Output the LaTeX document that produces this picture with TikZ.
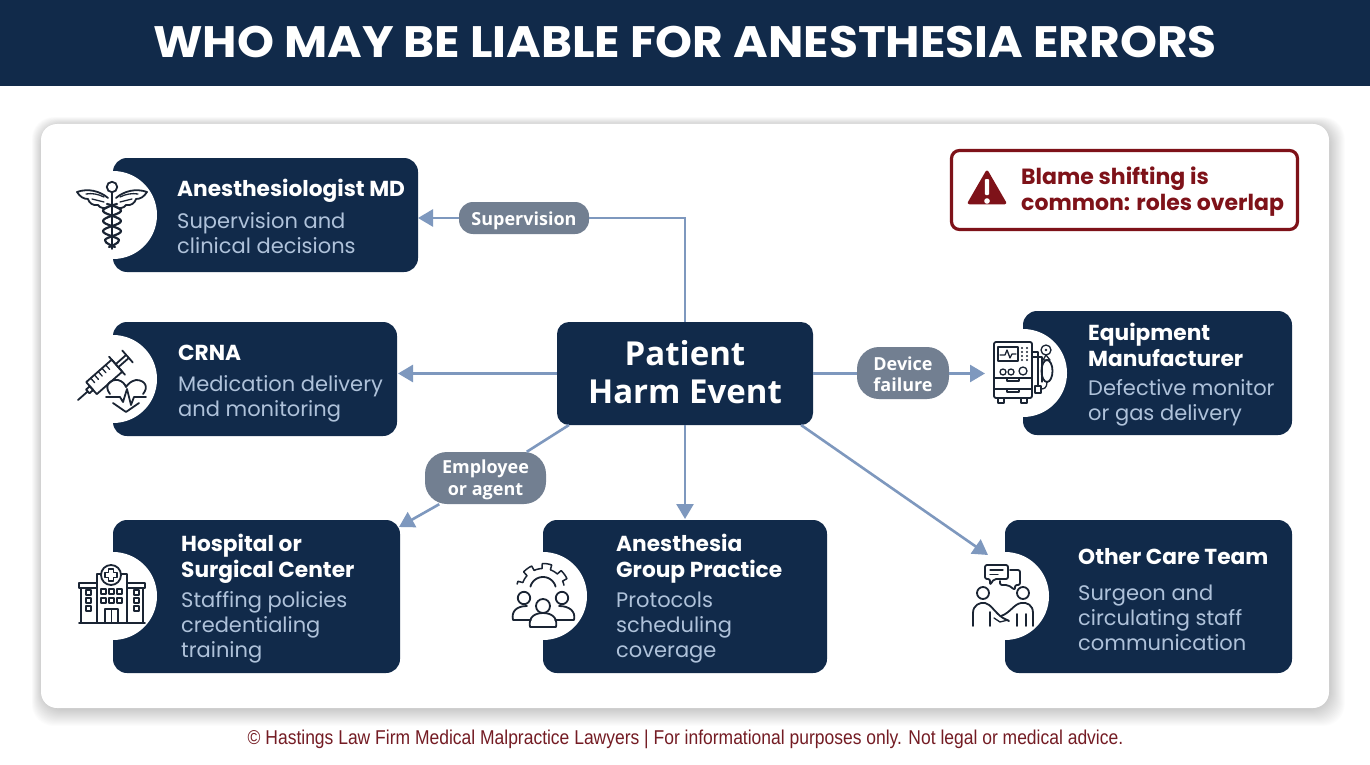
\documentclass[tikz,border=0pt]{standalone}
\usepackage{fontspec}
\setmainfont{Poppins}
\newfontfamily\titlefont[FakeStretch=1.07]{Poppins}
\newfontfamily\labfont{Open Sans}
\newfontfamily\footfont[FakeStretch=0.874]{Liberation Sans}
\usetikzlibrary{arrows.meta,shapes.geometric}
\definecolor{navy}{HTML}{112A4A}
\definecolor{bodyblue}{HTML}{AFC2DA}
\definecolor{pillgrey}{HTML}{727F91}
\definecolor{linkblue}{HTML}{7E98BE}
\definecolor{wine}{HTML}{7E1219}
\definecolor{footwine}{HTML}{741C24}
\definecolor{ink}{HTML}{1A2433}
\newcommand{\nudge}[2]{\raisebox{#1}[\height][\depth]{#2}}
\tikzset{
  card/.style={fill=navy,rounded corners=14pt,inner sep=0pt},
  hubbox/.style={fill=navy,rounded corners=12pt,inner sep=0pt,text=white,align=center,
     font=\labfont\bfseries\fontsize{33}{38}\selectfont},
  notch/.style={circle,fill=white,inner sep=0pt,minimum size=88pt},
  cardhead/.style={anchor=base west,inner sep=0pt,text=white,align=left,
     font=\bfseries\fontsize{21.7}{26}\selectfont},
  cardbody/.style={anchor=base west,inner sep=0pt,text=bodyblue,align=left,
     font=\fontsize{21}{25}\selectfont},
  pill/.style={fill=pillgrey,text=white,inner sep=0pt,align=center,
     font=\labfont\bfseries\fontsize{18}{21.5}\selectfont},
  link/.style={draw=linkblue,line width=2.6pt},
  arrowlink/.style={link,-{Triangle[length=15pt,width=17pt]}},
  icon/.style={draw=ink,line width=1.8pt,line cap=round,line join=round,fill=none},
  iconthin/.style={draw=ink,line width=1.3pt,line cap=round,line join=round,fill=none},
}
\begin{document}
\begin{tikzpicture}[x=1pt,y=-1pt]
\useasboundingbox (0,0) rectangle (1370,765);
\fill[white] (0,0) rectangle (1370,765);
% header
\fill[navy] (0,0) rectangle (1370,86);
\node[inner sep=0pt,text=white,font=\titlefont\bfseries\fontsize{44}{50}\selectfont] (title) at (685,42) {WHO MAY BE LIABLE FOR ANESTHESIA ERRORS};
% panel with soft shadow
\foreach \i in {1,...,22}{
  \fill[black,opacity=0.011,rounded corners=22pt] (45-0.6*\i,128-0.5*\i) rectangle (1325+0.9*\i,704+1.0*\i);
}
\fill[white,rounded corners=16pt] (41,124) rectangle (1329,708);
% cards
\node[card,minimum width=305pt,minimum height=114pt] (anes) at (265.5,215) {};
\node[card,minimum width=284pt,minimum height=114pt] (crna) at (255,379) {};
\node[card,minimum width=269pt,minimum height=124pt] (equip) at (1157.5,373) {};
\node[card,minimum width=287pt,minimum height=153pt] (hosp) at (256.5,596.5) {};
\node[card,minimum width=284pt,minimum height=153pt] (group) at (685,596.5) {};
\node[card,minimum width=287pt,minimum height=153pt] (other) at (1148.5,596.5) {};
\node[notch] (n1) at (113,215) {};
\node[notch] (n2) at (113,379) {};
\node[notch] (n3) at (1023,373) {};
\node[notch] (n4) at (113,596) {};
\node[notch] (n5) at (543,596) {};
\node[notch] (n6) at (1005,596) {};
% card texts (base anchor = last line)
\node[cardhead] (t1) at (177,196) {Anesthesiologist MD};
\node[cardbody] (b1) at (177,253) {Supervision and\\clinical decisions};
\node[cardhead] (t2) at (178,360) {CRNA};
\node[cardbody] (b2) at (178,416) {Medication delivery\\and monitoring};
\node[cardhead] (t3) at (1088,366) {Equipment\\Manufacturer};
\node[cardbody] (b3) at (1088,420) {Defective monitor\\or gas delivery};
\node[cardhead] (t4) at (181,577) {Hospital or\\Surgical Center};
\node[cardbody] (b4) at (181,657) {Staffing policies\\credentialing\\training};
\node[cardhead] (t5) at (616,577) {Anesthesia\\Group Practice};
\node[cardbody] (b5) at (616,657) {Protocols\\scheduling\\coverage};
\node[cardhead] (t6) at (1078,564) {Other Care Team};
\node[cardbody] (b6) at (1078,650) {Surgeon and\\circulating staff\\communication};
% hub and labels
\node[hubbox,minimum width=256pt,minimum height=103pt] (hub) at (685,373.5) {\nudge{1pt}{Patient}\\\nudge{1pt}{Harm Event}};
\node[pill,rounded corners=14pt,minimum width=130pt,minimum height=32pt] (sup) at (524,218) {\nudge{-3pt}{Supervision}};
\node[pill,rounded corners=22pt,minimum width=92pt,minimum height=52pt] (dev) at (903,373) {\nudge{-1pt}{Device}\\\nudge{-1pt}{failure}};
\node[pill,rounded corners=22pt,minimum width=121pt,minimum height=52pt] (emp) at (485.5,478) {\nudge{-2pt}{Employee}\\\nudge{-2pt}{or agent}};
% connector ends
\coordinate (anesin) at (418,218);
\coordinate (crnain) at (398,373.5);
\coordinate (equipin) at (985,373.5);
\coordinate (hospin) at (399,527);
\coordinate (groupin) at (685,519);
\coordinate (otherin) at (988,555);
\coordinate (hubsw) at (569,425);
\coordinate (hubse) at (801,425);
\draw[link] (hub.north) |- (sup.east);
\draw[arrowlink] (sup.west) -- (anesin);
\draw[arrowlink] (hub.west |- crnain) -- (crnain);
\draw[link] (hub.east |- equipin) -- (dev.west |- equipin);
\draw[arrowlink] (dev.east |- equipin) -- (equipin);
\draw[link] (hubsw) -- (emp);
\draw[arrowlink] (emp) -- (hospin);
\draw[arrowlink] (hub.south) -- (groupin);
\draw[arrowlink] (hubse) -- (otherin);
% warning box
\node[draw=wine,line width=3.2pt,fill=white,rounded corners=8pt,minimum width=346pt,minimum height=79pt,inner sep=0pt] (warn) at (1124.5,190) {};
\node[regular polygon,regular polygon sides=3,fill=wine,draw=wine,line width=3pt,line join=round,inner sep=0pt,minimum size=41pt] (tri) at (987,192.5) {};
\fill[white,rounded corners=1pt] (984.8,179) rectangle (989.2,195);
\fill[white] (987,201) circle (2.8);
\node[anchor=base west,inner sep=0pt,text=wine,align=left,font=\bfseries\fontsize{22}{26}\selectfont] (warntext) at (1021,210.5) {Blame shifting is\\common: roles overlap};
% footer
\node[inner sep=0pt,text=footwine,font=\footfont\fontsize{20}{23}\selectfont] (foot) at (685.5,739.5) {© Hastings Law Firm Medical Malpractice Lawyers | For informational purposes only. Not legal or medical advice.};
% icon: caduceus
\draw[icon] (112,192) -- (112,249);
\draw[icon,fill=white] (112,187) circle (5.2);
\foreach \s in {-1,1}{
  \begin{scope}[shift={(112,0)},x={(\s pt,0pt)}]
  \draw[icon] (4,198) .. controls (12,191) and (24,188) .. (35,192) .. controls (32,197) and (28,199) .. (24,199) .. controls (23,203) and (19,206) .. (14,205) .. controls (12,208) and (8,209) .. (4,207);
  \draw[iconthin] (8,197) .. controls (14,194) and (20,193) .. (26,194);
  \draw[iconthin] (8,202) .. controls (12,201) and (16,200) .. (20,199);
  \draw[icon,line width=2.2pt] plot[smooth,tension=0.7] coordinates {(5,204) (-9,211) (9,221) (-9,231) (7,240) (-3,247)};
  \end{scope}
}
% icon: syringe and heart
\begin{scope}[shift={(78,400)},x={(0.75pt,0.66pt)},y={(0.66pt,-0.75pt)}]
  \draw[icon] (0,0) -- (13,0);
  \draw[icon] (13,-2.5) -- (18,-2.5) -- (18,2.5) -- (13,2.5) -- cycle;
  \draw[icon] (18,-8) -- (52,-8) -- (52,8) -- (18,8) -- cycle;
  \foreach \t in {24,29,34,39,44} \draw[iconthin] (\t,-8) -- (\t,-2);
  \draw[icon] (52,-12) -- (52,12);
  \draw[icon] (52,-2) -- (66,-2) (52,2) -- (66,2);
  \draw[icon] (66,-8) -- (66,8);
\end{scope}
\draw[icon] (110,394) .. controls (103,385) and (111,379) .. (118,380) .. controls (122,381) and (125,384) .. (126,387) .. controls (128,384) and (131,381) .. (136,380) .. controls (145,380) and (149,387) .. (143,394);
\draw[icon] (113,403) -- (126,412) -- (139,403);
\draw[icon] (106,397) -- (120,397) -- (123,402) -- (127,389) -- (131,405) -- (134,397) -- (146,397);
% icon: equipment
\draw[icon,rounded corners=2pt] (994,342) rectangle (1032,398);
\draw[icon] (998,347) rectangle (1018,361);
\draw[iconthin] (1000,355) -- (1005,355) -- (1007,350) -- (1010,358) -- (1012,354) -- (1016,354);
\foreach \yy in {348,352,356,360} \foreach \xx in {1022,1027} \fill[ink] (\xx,\yy) circle (1.1);
\draw[iconthin] (1003,372) circle (3);
\draw[iconthin] (1011,372) circle (3);
\draw[iconthin] (1023,371) circle (4);
\draw[iconthin] (994,378) -- (1032,378);
\draw[iconthin] (994,389) -- (1032,389);
\draw[iconthin] (1007,378) -- (1007,381) -- (1019,381) -- (1019,378);
\draw[iconthin] (1007,389) -- (1007,392) -- (1019,392) -- (1019,389);
\draw[iconthin] (998,398) -- (998,403) -- (1004,403) -- (1004,398);
\draw[iconthin] (1021,398) -- (1021,403) -- (1027,403) -- (1027,398);
\draw[iconthin] (1032,352) -- (1038,352) -- (1038,386);
\draw[iconthin] (1032,357) -- (1042,357) -- (1042,382);
\draw[iconthin] (1035,386) rectangle (1041,393);
\draw[iconthin] (1046,350) circle (5);
\fill[ink] (1046,350) circle (1.4);
\draw[iconthin] (1046,355) -- (1043,360) -- (1050,360) -- (1046,355);
\draw[icon] (1047,371) ellipse (5.5 and 11);
\draw[iconthin] (1047,382) .. controls (1047,388) and (1044,389) .. (1041,389);
% icon: hospital
\draw[icon] (79,623) -- (145,623);
\draw[icon] (81,588) -- (81,623);
\draw[icon] (143,588) -- (143,623);
\draw[icon] (79,583) rectangle (97,588);
\draw[icon] (127,583) rectangle (145,588);
\draw[icon] (97,623) -- (97,574) -- (103,574);
\draw[icon] (127,623) -- (127,574) -- (119,574);
\draw[icon,fill=white] (111,575) circle (10);
\draw[iconthin] (108.5,569) -- (113.5,569) -- (113.5,572.5) -- (117,572.5) -- (117,577.5) -- (113.5,577.5) -- (113.5,581) -- (108.5,581) -- (108.5,577.5) -- (105,577.5) -- (105,572.5) -- (108.5,572.5) -- cycle;
\foreach \yy in {590,598,606} {
  \draw[iconthin] (86,\yy) rectangle (91,\yy+5);
  \draw[iconthin] (134,\yy) rectangle (139,\yy+5);
}
\foreach \yy in {589,598} \foreach \xx in {101,109,117} \draw[iconthin] (\xx,\yy) rectangle (\xx+5,\yy+5);
\draw[icon] (105,623) -- (105,609) -- (118,609) -- (118,623);
\draw[iconthin] (111.5,609) -- (111.5,623);
% icon: group and gear
\draw[iconthin,line width=1.5pt] plot[samples=150,domain=193:347] ({543+(21.5+5*(sin(8*\x+20)>0))*cos(\x)},{590+(21.5+5*(sin(8*\x+20)>0))*sin(\x)});
\draw[icon] plot[samples=40,domain=195:345] ({543+13*cos(\x)},{590+13*sin(\x)});
\draw[icon] (543,606) circle (7);
\draw[icon] (524,598) circle (6.2);
\draw[icon] (562,598) circle (6.2);
\draw[icon] (530,627) .. controls (528,617) and (535,613) .. (543,613) .. controls (551,613) and (558,617) .. (556,627) -- cycle;
\draw[icon] (531,620) -- (513,620) .. controls (511,611) and (517,606) .. (527,606);
\draw[icon] (555,620) -- (574,620) .. controls (576,611) and (569,606) .. (559,606);
% icon: care team
\draw[icon,rounded corners=2pt] (985,565) -- (1008,565) -- (1008,579) -- (994,579) -- (990,585) -- (990,579) -- (985,579) -- cycle;
\draw[iconthin] (990,570) -- (1003,570);
\draw[iconthin] (990,574.5) -- (998,574.5);
\draw[icon,rounded corners=2pt] (1010,570) -- (1020,570) -- (1020,585) -- (1015,585) -- (1015,590) -- (1008,585) -- (1000,585) -- (1000,581);
\draw[icon] (983,593) circle (6);
\draw[icon] (1023,593) circle (6);
\draw[icon] (973,626) -- (973,613) .. controls (973,605) and (980,602) .. (985,603) .. controls (991,604) and (995,613) .. (1003,618) -- (1009,621);
\draw[icon] (1033,626) -- (1033,613) .. controls (1033,605) and (1027,602) .. (1021,603) .. controls (1014,604) and (1010,613) .. (1001,616);
\draw[icon] (990,612) -- (990,626);
\draw[icon] (1017,614) -- (1017,626);
\draw[icon] (1026,614) -- (1026,626);
\draw[iconthin] (994,618) -- (1000,622) -- (1008,620);
\end{tikzpicture}
\end{document}
